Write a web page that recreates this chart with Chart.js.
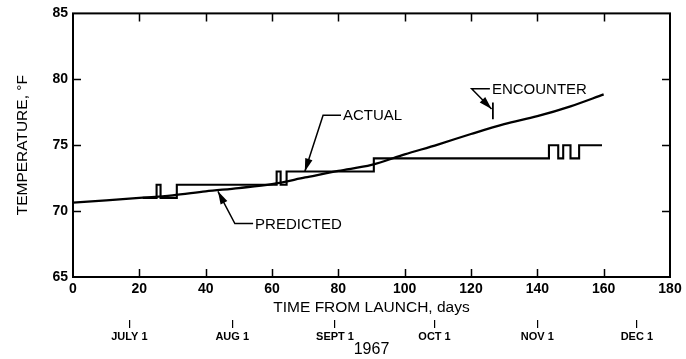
<!DOCTYPE html>
<html><head><meta charset="utf-8">
<script src="https://cdn.jsdelivr.net/npm/chart.js@4"></script>
<style>html,body{margin:0;padding:0;background:#fff}canvas{display:block}</style>
</head><body>
<canvas id="c" width="686" height="359"></canvas>
<script>
// ---- data ----
const predictedDays  = [0, 10, 20, 30, 40, 50, 60, 70, 80, 90, 100, 110, 120, 130, 140, 150, 160];
const predictedTemps = [70.65, 70.82, 71.0, 71.2, 71.5, 71.75, 72.05, 72.55, 73.05, 73.5, 74.3, 75.05, 75.85, 76.6, 77.2, 77.95, 78.85];
const actualDays  = [21, 25.2, 26.4, 31.3, 61.4, 62.6, 64.4, 90.7, 143.5, 146.3, 147.8, 150.0, 152.6, 159.5];
const actualTemps = [71, 72, 71, 72, 73, 72, 73, 74, 75, 74, 75, 74, 75, 75];
const dayTicks  = [0, 20, 40, 60, 80, 100, 120, 140, 160, 180];
const tempTicks = [65, 70, 75, 80, 85];
const dateDays   = [17, 48, 79, 109, 140, 170];
const dateLabels = ['JULY 1', 'AUG 1', 'SEPT 1', 'OCT 1', 'NOV 1', 'DEC 1'];
const innerDayTicks  = [20, 40, 60, 80, 100, 120, 140, 160];
const innerTempTicks = [70, 75, 80];
// annotation leaders in data coordinates: tip (arrow point), bend, end (text start)
const annotations = [
  {text: 'ACTUAL',    tip: [69.9, 73.0],   bend: [75.4, 77.27],  end: [80.8, 77.27]},
  {text: 'PREDICTED', tip: [43.7, 71.5],   bend: [48.8, 69.05],  end: [54.3, 69.05]},
  {text: 'ENCOUNTER', tip: [126.2, 77.74], bend: [120.2, 79.29], end: [125.7, 79.29]}
];
const encounterDay = 126.6;
const encounterMark = [76.97, 78.24];

const FAMILY = "'Liberation Sans', Arial, Helvetica, sans-serif";
Chart.defaults.font.family = FAMILY;
Chart.defaults.color = '#000';

const framePlugin = {
  id: 'frame',
  afterDatasetsDraw(chart) {
    const {ctx, chartArea: a, scales} = chart;
    ctx.save();
    ctx.strokeStyle = '#000';
    ctx.lineWidth = 2;
    ctx.strokeRect(a.left, a.top, a.right - a.left, a.bottom - a.top);
    ctx.lineWidth = 1.5;
    const L = 8;
    ctx.beginPath();
    innerDayTicks.forEach(d => {
      const x = Math.round(scales.x.getPixelForValue(d)) + 0.5;
      ctx.moveTo(x, a.top); ctx.lineTo(x, a.top + L);
      ctx.moveTo(x, a.bottom); ctx.lineTo(x, a.bottom - L);
    });
    innerTempTicks.forEach(t => {
      const y = Math.round(scales.y.getPixelForValue(t)) + 0.5;
      ctx.moveTo(a.left, y); ctx.lineTo(a.left + L, y);
      ctx.moveTo(a.right, y); ctx.lineTo(a.right - L, y);
    });
    ctx.stroke();
    ctx.restore();
  }
};

const annotationPlugin = {
  id: 'notes',
  afterDatasetsDraw(chart) {
    const {ctx, scales} = chart;
    const P = p => [scales.x.getPixelForValue(p[0]), scales.y.getPixelForValue(p[1])];
    ctx.save();
    ctx.strokeStyle = '#000';
    ctx.fillStyle = '#000';
    ctx.lineWidth = 1.5;
    annotations.forEach(n => {
      const t = P(n.tip), b = P(n.bend), e = P(n.end);
      ctx.beginPath();
      ctx.moveTo(e[0], e[1]); ctx.lineTo(b[0], b[1]); ctx.lineTo(t[0], t[1]);
      ctx.stroke();
      const ang = Math.atan2(t[1] - b[1], t[0] - b[0]);
      const len = 13, w = 3.8;
      const bx = t[0] - len * Math.cos(ang), by = t[1] - len * Math.sin(ang);
      ctx.beginPath();
      ctx.moveTo(t[0], t[1]);
      ctx.lineTo(bx + w * Math.sin(ang), by - w * Math.cos(ang));
      ctx.lineTo(bx - w * Math.sin(ang), by + w * Math.cos(ang));
      ctx.closePath();
      ctx.fill();
      ctx.font = '15px ' + FAMILY;
      ctx.textBaseline = 'middle';
      ctx.textAlign = 'left';
      ctx.fillText(n.text, e[0] + 2, e[1] + 1);
    });
    const x = scales.x.getPixelForValue(encounterDay);
    ctx.lineWidth = 1.8;
    ctx.beginPath();
    ctx.moveTo(x, scales.y.getPixelForValue(encounterMark[0]));
    ctx.lineTo(x, scales.y.getPixelForValue(encounterMark[1]));
    ctx.stroke();
    ctx.restore();
  }
};

new Chart(document.getElementById('c'), {
  type: 'line',
  data: {
    datasets: [
      {
        label: 'Predicted',
        data: predictedDays.map((d, i) => ({x: d, y: predictedTemps[i]})),
        borderColor: '#000', borderWidth: 2.3, pointRadius: 0, fill: false,
        cubicInterpolationMode: 'monotone'
      },
      {
        label: 'Actual',
        data: actualDays.map((d, i) => ({x: d, y: actualTemps[i]})),
        borderColor: '#000', borderWidth: 2.1, pointRadius: 0, fill: false,
        stepped: 'before'
      }
    ]
  },
  options: {
    responsive: false, animation: false, devicePixelRatio: 1,
    layout: {padding: {left: 0, right: 16, top: 10, bottom: 0}},
    plugins: {legend: {display: false}, tooltip: {enabled: false}},
    scales: {
      x: {
        type: 'linear', min: 0, max: 180, position: 'bottom',
        afterBuildTicks: s => { s.ticks = dayTicks.map(v => ({value: v})); },
        ticks: {font: {size: 14, weight: 'bold'}, color: '#000', padding: 4, maxRotation: 0, autoSkip: false},
        grid: {display: false, drawOnChartArea: false, drawTicks: false},
        border: {display: false},
        title: {display: true, text: 'TIME FROM LAUNCH, days', font: {size: 15.5}, color: '#000', padding: {top: 0, bottom: 3}},
        afterFit: s => { s.height = 43; }
      },
      date: {
        type: 'linear', min: 0, max: 180, position: 'bottom',
        afterBuildTicks: s => { s.ticks = dateDays.map(v => ({value: v})); },
        ticks: {callback: (v, i) => dateLabels[i], font: {size: 11, weight: 'bold'}, color: '#000', padding: 2, maxRotation: 0, autoSkip: false},
        grid: {display: true, drawOnChartArea: false, drawTicks: true, tickLength: 8, color: '#000', lineWidth: 1.2},
        border: {display: false},
        title: {display: true, text: '1967', font: {size: 16}, color: '#000', padding: {top: 0, bottom: 0}},
        afterFit: s => { s.height = 39; }
      },
      y: {
        type: 'linear', min: 65, max: 85, position: 'left',
        afterBuildTicks: s => { s.ticks = tempTicks.map(v => ({value: v})); },
        ticks: {font: {size: 14, weight: 'bold'}, color: '#000', padding: 5},
        grid: {display: false, drawOnChartArea: false, drawTicks: false},
        border: {display: false},
        title: {display: true, text: 'TEMPERATURE, °F', font: {size: 15.5}, color: '#000', padding: {top: 13, bottom: 0}},
        afterFit: s => { s.width = 73; }
      }
    }
  },
  plugins: [framePlugin, annotationPlugin]
});
</script>
</body></html>
